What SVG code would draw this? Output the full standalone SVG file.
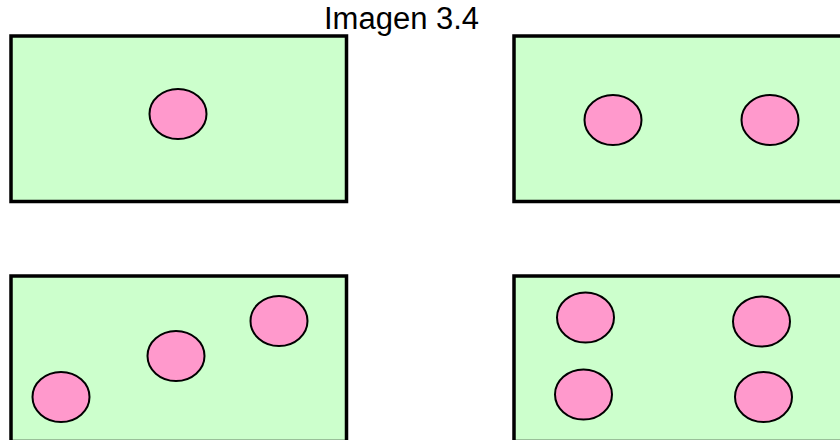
<svg xmlns="http://www.w3.org/2000/svg" width="840" height="440" viewBox="0 0 840 440">
<style>
.box{fill:#CCFFCC;stroke:#000;stroke-width:3.5}
.dot{fill:#FF99CC;stroke:#000;stroke-width:2}
.title{font-family:"Liberation Sans",Arial,sans-serif;font-size:31px;fill:#000}
</style>
<rect width="840" height="440" fill="#fff"/>
<text class="title" x="324" y="29">Imagen 3.4</text>
<g id="panel1">
<rect class="box" x="11" y="36" width="335.5" height="165.5"/>
<ellipse class="dot" cx="178" cy="114" rx="28.5" ry="25"/>
</g>
<g id="panel2">
<rect class="box" x="514" y="36" width="335.5" height="165.5"/>
<ellipse class="dot" cx="613" cy="120" rx="28.5" ry="25"/>
<ellipse class="dot" cx="770" cy="120" rx="28.5" ry="25"/>
</g>
<g id="panel3">
<rect class="box" x="11" y="276" width="335.5" height="165.5"/>
<ellipse class="dot" cx="61" cy="397" rx="28.5" ry="25"/>
<ellipse class="dot" cx="176" cy="356" rx="28.5" ry="25"/>
<ellipse class="dot" cx="279" cy="321" rx="28.5" ry="25"/>
</g>
<g id="panel4">
<rect class="box" x="514" y="276" width="335.5" height="165.5"/>
<ellipse class="dot" cx="585.5" cy="317.5" rx="28.5" ry="25"/>
<ellipse class="dot" cx="761.5" cy="321.5" rx="28.5" ry="25"/>
<ellipse class="dot" cx="583.5" cy="394.5" rx="28.5" ry="25"/>
<ellipse class="dot" cx="763.5" cy="397" rx="28.5" ry="25"/>
</g>
<g id="connectors"/>
</svg>
